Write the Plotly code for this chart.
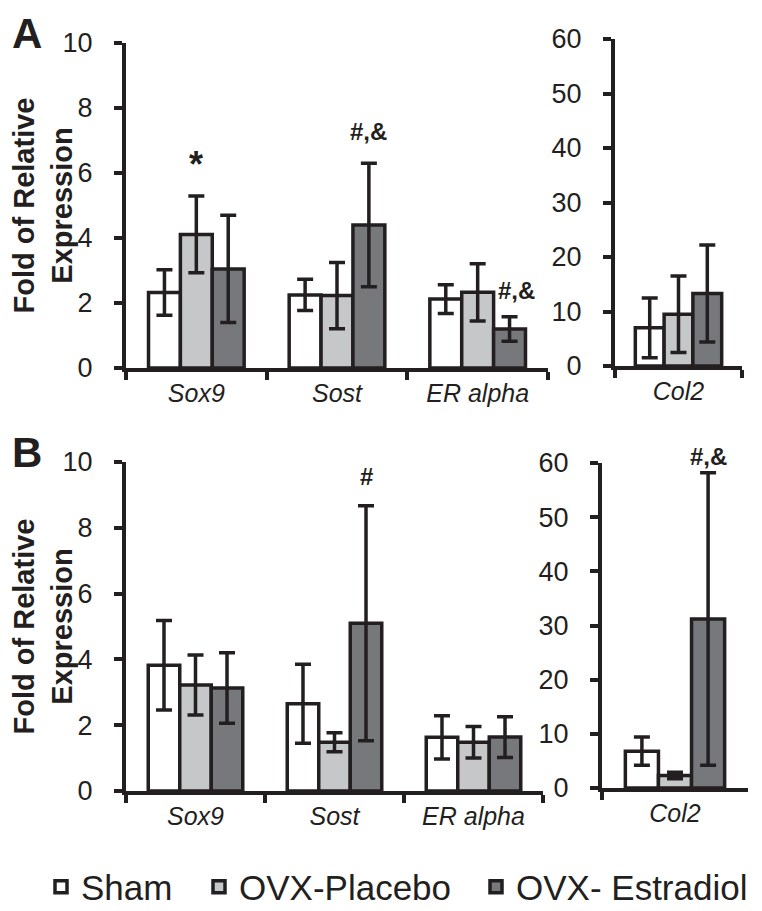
import plotly.graph_objects as go

# ---------------- data ----------------
genes = ["Sox9", "Sost", "ER alpha"]
col2 = ["Col2"]
groups = ["Sham", "OVX-Placebo", "OVX- Estradiol"]

# Panel A (means and SD)
a_sham = [2.32, 2.25, 2.12]
a_sham_err = [0.70, 0.48, 0.44]
a_plac = [4.11, 2.23, 2.33]
a_plac_err = [1.18, 1.02, 0.88]
a_estr = [3.05, 4.40, 1.20]
a_estr_err = [1.65, 1.90, 0.38]

a_col2 = [7.0, 9.5, 13.3]
a_col2_err = [5.5, 7.0, 8.9]

# Panel B
b_sham = [3.82, 2.65, 1.63]
b_sham_err = [1.36, 1.20, 0.66]
b_plac = [3.22, 1.48, 1.48]
b_plac_err = [0.91, 0.29, 0.48]
b_estr = [3.13, 5.10, 1.64]
b_estr_err = [1.07, 3.57, 0.62]

b_col2 = [6.8, 2.3, 31.2]
b_col2_err = [2.6, 0.6, 27.0]

left_ticks = [0, 2, 4, 6, 8, 10]
right_ticks = [0, 10, 20, 30, 40, 50, 60]

# ---------------- style ----------------
PAGE_W, PAGE_H = 762, 911
BODY = 8                      # default page margin around the plot div
W, H = PAGE_W - BODY, PAGE_H - BODY
FONT = "Liberation Sans, Arial, sans-serif"
INK = "#231f20"
fills = ["#ffffff", "#c6c7c9", "#77787b"]
legends = ["legend", "legend2", "legend3"]


def px_x(p):
    return (p - BODY) / W


def px_y(p):
    return 1 - (p - BODY) / H


fig = go.Figure()


def add_panel(xa, ya, cats, series, errs, show):
    for i in range(3):
        multi = len(cats) > 1
        fig.add_trace(go.Bar(
            x=cats,
            y=series[i] if multi else [series[i]],
            name=groups[i],
            legendgroup=groups[i],
            legend=legends[i],
            showlegend=show,
            xaxis=xa, yaxis=ya,
            marker=dict(color=fills[i], line=dict(color=INK, width=3.5)),
            error_y=dict(type="data",
                         array=errs[i] if multi else [errs[i]],
                         color=INK, thickness=3.5, width=8),
        ))


add_panel("x", "y", genes, [a_sham, a_plac, a_estr], [a_sham_err, a_plac_err, a_estr_err], True)
add_panel("x2", "y2", col2, a_col2, a_col2_err, False)
add_panel("x3", "y3", genes, [b_sham, b_plac, b_estr], [b_sham_err, b_plac_err, b_estr_err], False)
add_panel("x4", "y4", col2, b_col2, b_col2_err, False)

xcommon = dict(type="category", showline=True, linecolor=INK, linewidth=4,
               ticks="outside", tickson="boundaries", ticklen=8, tickwidth=4,
               tickcolor=INK, showgrid=False, zeroline=False, fixedrange=True,
               automargin=False,
               tickfont=dict(family=FONT, size=25, color=INK, style="italic"))
ycommon = dict(showline=True, linecolor=INK, linewidth=4, ticks="outside",
               ticklen=8, tickwidth=4, tickcolor=INK, showgrid=False,
               zeroline=False, fixedrange=True, ticklabelstandoff=16,
               automargin=False,
               tickfont=dict(family=FONT, size=27, color=INK))
ytitle = dict(text="<b>Fold of Relative<br>Expression</b>",
              font=dict(family=FONT, size=29, color=INK), standoff=6)

legstyle = dict(orientation="h", xanchor="left", y=px_y(887),
                yanchor="middle", font=dict(family=FONT, size=35, color=INK),
                bgcolor="rgba(0,0,0,0)", itemwidth=30)

fig.update_layout(
    width=W, height=H, autosize=False,
    margin=dict(l=0, r=0, t=0, b=0, autoexpand=False),
    paper_bgcolor="white", plot_bgcolor="white",
    barmode="group", bargap=0.32, bargroupgap=0,
    font=dict(family=FONT, color=INK),
    xaxis=dict(xcommon, domain=[px_x(126), px_x(548)], anchor="y"),
    yaxis=dict(ycommon, domain=[px_y(368), px_y(43)], range=[0, 10],
               tickvals=left_ticks, anchor="x", title=ytitle),
    xaxis2=dict(xcommon, domain=[px_x(615), px_x(742)], anchor="y2"),
    yaxis2=dict(ycommon, domain=[px_y(366), px_y(39)], range=[0, 60],
                tickvals=right_ticks, anchor="x2"),
    xaxis3=dict(xcommon, domain=[px_x(126), px_x(543)], anchor="y3"),
    yaxis3=dict(ycommon, domain=[px_y(791), px_y(462)], range=[0, 10],
                tickvals=left_ticks, anchor="x3", title=ytitle),
    xaxis4=dict(xcommon, domain=[px_x(602), px_x(748)], anchor="y4"),
    yaxis4=dict(ycommon, domain=[px_y(788), px_y(463)], range=[0, 60],
                tickvals=right_ticks, anchor="x4"),
    legend=dict(legstyle, x=px_x(41)),
    legend2=dict(legstyle, x=px_x(199)),
    legend3=dict(legstyle, x=px_x(476)),
    showlegend=True,
)

off = 0.68 / 3  # offset of a bar inside its group (category units)
sig = [
    ("x", "y", 0, 6.25, "*", 36),
    ("x", "y", 1 + off, 7.27, "#,&", 24),
    ("x", "y", 2 + off + 0.05, 2.38, "#,&", 24),
    ("x3", "y3", 1 + off, 9.55, "#", 24),
]
for xr, yr, xv, yv, t, s in sig:
    fig.add_annotation(xref=xr, yref=yr, x=xv, y=yv, text=f"<b>{t}</b>",
                       showarrow=False, xanchor="center", yanchor="middle",
                       font=dict(family=FONT, size=s, color=INK))

# marker above the Col2 estradiol bar of panel B sits just above the axis top
fig.add_annotation(xref="x4", yref="y4 domain", x=off, y=1 + 1.2 / 60,
                   text="<b>#,&</b>", showarrow=False, xanchor="center",
                   yanchor="middle", font=dict(family=FONT, size=24, color=INK))

fig.add_annotation(xref="paper", yref="paper", x=px_x(27), y=1,
                   text="<b>A</b>", showarrow=False,
                   xanchor="center", yanchor="top",
                   font=dict(family=FONT, size=42, color=INK))
fig.add_annotation(xref="paper", yref="paper", x=px_x(27), y=px_y(452),
                   text="<b>B</b>", showarrow=False,
                   xanchor="center", yanchor="middle",
                   font=dict(family=FONT, size=42, color=INK))

fig.write_html("out.html")
